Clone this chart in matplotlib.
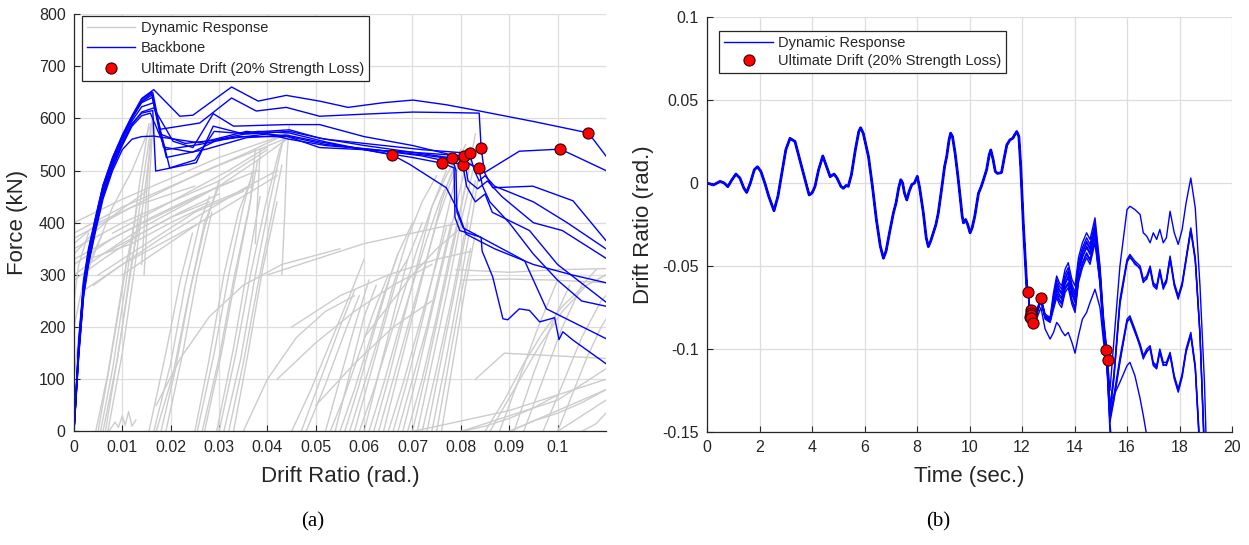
import matplotlib
matplotlib.use("Agg")
import matplotlib.pyplot as plt

plt.rcParams['font.family'] = ['Liberation Sans', 'DejaVu Sans']

# ---------------- (a) force vs drift ----------------
rise_drift = [0, .001, .002, .003, .0045, .006, .008, .010, .012, .014]

bb1_drift = rise_drift + [.0165, .0219, .0246, .0326, .0381, .0439, .0508, .0567, .0640, .0701, .0770, .0839, .0950, .1064, .110]
bb1_force = [0, 170, 285, 345, 410, 470, 525, 568, 605, 638, 655, 604, 606, 660, 633, 644, 633, 621, 630, 635, 626, 614, 594, 572, 528]

bb2_drift = rise_drift + [.0163, .0178, .0260, .0326, .0377, .0439, .0508, .0600, .0700, .0780, .0838, .0842, .0849, .0866, .0949, .1032, .110]
bb2_force = [0, 160, 275, 335, 400, 462, 518, 562, 600, 632, 650, 579, 591, 639, 614, 621, 604, 608, 612, 611, 610, 543, 496, 467, 470, 442, 366]

bb3_drift = rise_drift + [.0165, .0205, .0246, .0288, .0330, .0439, .0508, .0600, .0700, .0780, .0835, .0849, .0921, .1006, .110]
bb3_force = [0, 150, 265, 325, 392, 452, 508, 552, 588, 612, 620, 556, 544, 609, 585, 588, 588, 565, 548, 530, 505, 496, 537, 541, 500]

bb4_drift = rise_drift + [.0162, .0191, .0274, .0357, .0439, .0508, .0600, .0658, .0694, .0770, .0791, .0811, .0870, .0950, .1030, .110]
bb4_force = [0, 165, 280, 340, 405, 465, 520, 563, 600, 630, 640, 525, 541, 563, 568, 555, 540, 530, 512, 467, 429, 378, 350, 320, 300, 285]

bb5_drift = rise_drift + [.0162, .0185, .0245, .0300, .0380, .0445, .0520, .0600, .0700, .0762, .0786, .0788, .0798, .0842, .0844, .0866, .0887, .0897, .0921, .0942, .0963, .0994, .1003, .1011, .1032, .110]
bb5_force = [0, 175, 290, 350, 412, 472, 525, 566, 603, 632, 645, 545, 535, 560, 575, 572, 555, 540, 525, 514, 505, 410, 385, 372, 346, 296, 216, 214, 235, 232, 210, 218, 176, 191, 175, 130]

bb6_drift = rise_drift + [.0163, .0169, .0253, .0288, .0343, .0446, .0508, .0600, .0700, .0782, .0790, .0792, .0805, .0932, .0977, .110]
bb6_force = [0, 155, 270, 330, 396, 456, 510, 553, 590, 610, 615, 499, 515, 585, 572, 578, 562, 548, 535, 524, 500, 420, 390, 327, 235, 178]

bb7_drift = rise_drift + [.0160, .0178, .0230, .0310, .0400, .0445, .0520, .0620, .0720, .0804, .0812, .0830, .0850, .0865, .0942, .1000, .110]
bb7_force = [0, 168, 282, 342, 408, 468, 522, 565, 602, 636, 650, 570, 552, 560, 570, 560, 548, 540, 528, 511, 470, 440, 455, 420, 385, 320, 248]

bb8_drift = rise_drift + [.0165, .0260, .0357, .0439, .0508, .0600, .0700, .0806, .0815, .0835, .0855, .0885, .0950, .1010, .110]
bb8_force = [0, 145, 260, 320, 385, 445, 500, 540, 560, 565, 566, 553, 575, 566, 544, 540, 535, 528, 480, 465, 480, 450, 400, 385, 332]

bb9_drift = rise_drift + [.0165, .0198, .0250, .0290, .0360, .0445, .0520, .0620, .0720, .0818, .0828, .0838, .0850, .0870, .0950, .1020, .110]
bb9_force = [0, 158, 272, 332, 398, 460, 515, 558, 595, 622, 630, 505, 520, 575, 570, 575, 560, 550, 540, 533, 500, 480, 490, 470, 440, 400, 350]

bb10_drift = rise_drift + [.0158, .0190, .0260, .0340, .0445, .0520, .0620, .0720, .0800, .0837, .0845, .0860, .0900, .0950, .1000, .1050, .110]
bb10_force = [0, 150, 262, 322, 390, 450, 505, 548, 585, 605, 610, 540, 550, 565, 565, 550, 540, 530, 520, 504, 470, 440, 400, 340, 290, 250, 240]

ult_drift = [0.0658, 0.0762, 0.0782, 0.0804, 0.0806, 0.0818, 0.0837, 0.0842, 0.1006, 0.1064]
ult_force = [530, 514, 524, 511, 528, 533, 504, 543, 541, 572]

# gray hysteresis branches, grouped by stage of the record
resp_elastic = [
    ([0, .001, .002, .003], [0, 150, 260, 320]),
    ([0, .0015, .003, .005], [100, 230, 310, 360]),
    ([0, .002, .004, .006], [200, 290, 340, 380]),
    ([0, .001, .003], [250, 320, 380]),
    ([0, .002, .005, .008, .012, .016, .0165], [0, 300, 360, 430, 500, 590, 600]),
]
resp_reload = [
    ([0, .01, .02, .03, .0435], [380, 430, 470, 510, 560]),
    ([0, .01, .02, .03, .040], [350, 400, 440, 480, 540]),
    ([0, .008, .016, .025, .033], [320, 370, 410, 450, 480]),
    ([0, .006, .012, .02, .028], [300, 340, 370, 410, 440]),
    ([0, .01, .02, .03, .044], [400, 445, 485, 525, 570]),
    ([.003, .012, .02, .029, .037], [330, 360, 400, 440, 470]),
    ([0, .005, .012, .02, .025], [360, 400, 430, 455, 470]),
    ([.005, .015, .025, .035], [300, 360, 420, 460]),
    ([.004, .01, .018, .026], [280, 320, 360, 400]),
    ([0, .008, .016, .026, .036, .045], [370, 410, 450, 495, 535, 575]),
    ([0, .01, .02, .03, .038], [330, 380, 425, 470, 500]),
    ([.002, .01, .018, .027, .035, .042], [270, 320, 370, 420, 465, 500]),
    ([0, .006, .014, .022, .030], [290, 330, 380, 420, 455]),
    ([.006, .014, .022, .030, .038, .044], [340, 390, 430, 470, 520, 560]),
    ([.008, .016, .024, .032, .040], [380, 420, 460, 500, 545]),
    ([.010, .018, .026, .034, .042], [300, 350, 400, 445, 490]),
    ([0, .004, .009, .015], [340, 380, 420, 460]),
    ([.0145, .0150, .0155, .0160, .0163], [300, 380, 460, 540, 600]),
    ([.0140, .0146, .0152, .0158], [320, 400, 480, 560]),
    ([.0430, .0436, .0440, .0445], [300, 420, 520, 585]),
    ([.0375, .0380, .0385], [360, 450, 540]),
]
resp_cycles_1 = [
    ([.0055, .008, .011, .0135, .0155], [0, 120, 300, 470, 590]),
    ([.006, .009, .012, .014, .0162], [0, 140, 320, 460, 600]),
    ([.0045, .007, .010, .0125, .013], [0, 110, 280, 400, 430]),
    ([.0065, .0095, .0120, .0140], [0, 170, 330, 420]),
    ([.0050, .0080, .0110, .0125], [0, 160, 330, 380]),
    ([.0070, .0100, .0125, .0145, .0160], [0, 150, 310, 450, 560]),
    ([.0072, .0085, .0092, .0100, .0106, .0113, .0120, .0128], [0, 18, 8, 30, 12, 38, 10, 22]),
    ([.0165, .020, .023, .026, .028], [0, 130, 280, 400, 450]),
    ([.0180, .021, .024, .027, .030], [0, 120, 270, 400, 470]),
    ([.0155, .019, .022, .0245], [0, 150, 290, 380]),
    ([.0190, .0225, .0255, .0285], [0, 150, 300, 420]),
    ([.0170, .0205, .0235, .0270, .0300], [0, 110, 250, 390, 480]),
    ([.017, .022, .028, .035, .043, .055], [50, 140, 220, 280, 320, 350]),
]
resp_cycles_2 = [
    ([.0255, .029, .032, .035, .037], [0, 150, 300, 430, 500]),
    ([.0265, .030, .033, .036, .038], [0, 140, 290, 420, 520]),
    ([.0250, .028, .031, .034, .0365], [0, 140, 300, 420, 480]),
    ([.0270, .0305, .0335, .0365, .0375], [0, 150, 300, 440, 540]),
    ([.0300, .0335, .0365, .0395, .0425, .0435], [0, 150, 300, 430, 540, 560]),
    ([.0310, .0345, .0375, .0405, .0435], [0, 140, 300, 440, 570]),
    ([.0320, .0350, .0380, .0410, .0430], [0, 130, 280, 420, 510]),
    ([.0330, .0360, .0390, .0420], [0, 150, 310, 440]),
    ([.0295, .0330, .0360, .0385], [0, 160, 320, 450]),
    ([.0350, .040, .046, .052, .058], [0, 100, 180, 230, 260]),
]
resp_cycles_3 = [
    ([.045, .049, .053, .057, .060], [0, 80, 170, 260, 330]),
    ([.048, .052, .056, .059], [0, 90, 190, 260]),
    ([.052, .055, .058, .061], [0, 100, 200, 290]),
    ([.054, .057, .060, .0625], [0, 110, 220, 280]),
    ([.056, .059, .062, .0655, .067], [0, 90, 190, 300, 340]),
    ([.058, .061, .064, .067, .069], [0, 100, 200, 300, 330]),
    ([.060, .063, .066, .069, .072], [0, 110, 220, 330, 400]),
    ([.062, .065, .068, .071, .074, .077], [0, 100, 210, 320, 430, 500]),
    ([.064, .067, .070, .073, .076, .079], [0, 110, 220, 330, 440, 520]),
    ([.066, .069, .072, .075, .078, .080], [0, 100, 210, 330, 450, 530]),
    ([.068, .071, .074, .077, .080, .082], [0, 110, 230, 350, 470, 545]),
    ([.069, .072, .075, .078, .081, .083], [0, 100, 220, 350, 470, 570]),
    ([.070, .073, .076, .079, .082], [0, 120, 250, 380, 520]),
    ([.071, .074, .077, .080, .0825], [0, 130, 260, 400, 500]),
    ([.072, .075, .078, .081, .083], [0, 120, 250, 390, 480]),
    ([.073, .076, .079, .0815], [0, 140, 280, 400]),
    ([.065, .068, .071, .074, .077], [0, 90, 190, 290, 390]),
    ([.067, .070, .073, .0755, .078], [0, 100, 200, 300, 400]),
    ([.055, .058, .061, .064, .067, .070], [0, 80, 170, 260, 340, 400]),
    ([.057, .060, .063, .066, .069, .072, .075], [0, 90, 180, 280, 370, 440, 490]),
    ([.059, .062, .065, .068, .071, .074, .077, .080], [0, 80, 170, 260, 350, 430, 490, 540]),
    ([.061, .064, .067, .070, .073, .076, .079, .081], [0, 90, 190, 280, 370, 450, 510, 550]),
    ([.063, .066, .069, .072, .075, .078, .081], [0, 100, 200, 300, 400, 480, 540]),
    ([.074, .077, .080, .0825, .0835], [0, 140, 290, 420, 480]),
    ([.075, .0775, .080, .082], [0, 130, 260, 350]),
    ([.076, .0785, .081, .083], [0, 140, 280, 380]),
    ([.053, .056, .059, .062, .065], [0, 70, 150, 230, 300]),
    ([.047, .051, .055, .058], [0, 100, 200, 270]),
    ([.060, .065, .070, .075, .080], [180, 240, 300, 350, 390]),
    ([.040, .050, .060, .070, .080], [300, 330, 360, 380, 400]),
    ([.045, .055, .065, .075, .082], [200, 260, 300, 330, 345]),
    ([.042, .050, .058, .066, .074], [100, 170, 230, 280, 320]),
    ([.050, .058, .066, .074], [50, 130, 200, 250]),
]
resp_post = [
    ([.079, .090, .100, .110], [310, 305, 310, 312]),
    ([.080, .090, .100, .110], [290, 292, 290, 285]),
    ([.083, .089, .110], [100, 150, 140]),
    ([.088, .092, .096, .100], [0, 100, 200, 290]),
    ([.091, .095, .099, .1025], [0, 110, 210, 280]),
    ([.093, .097, .101, .105, .108], [0, 100, 200, 280, 310]),
    ([.097, .101, .105, .109, .110], [0, 90, 180, 250, 260]),
    ([.085, .089, .093, .097, .101, .105, .110], [0, 60, 130, 190, 240, 275, 300]),
    ([.086, .091, .096, .101, .106, .110], [0, 80, 160, 230, 280, 300]),
    ([.100, .103, .106, .109, .110], [0, 70, 140, 200, 215]),
    ([.070, .080, .090, .100, .110], [0, 20, 40, 70, 100]),
    ([.080, .090, .100, .110], [0, 30, 60, 120]),
    ([.080, .085, .090, .095, .100], [0, 10, 25, 45, 70]),
    ([.090, .100, .110], [0, 40, 80]),
    ([.090, .095, .100, .105, .110], [0, 20, 35, 55, 80]),
    ([.100, .105, .110], [0, 30, 60]),
    ([.105, .108, .110], [0, 15, 35]),
]

# ---------------- (b) drift history ----------------
t_common = [0, 0.24, 0.5, 0.65, 0.79, 0.95, 1.1, 1.25, 1.4, 1.51, 1.65, 1.8, 1.92, 2.05, 2.2, 2.35,
            2.55, 2.7, 2.85, 3.0, 3.16, 3.35, 3.5, 3.67, 3.8, 3.89, 4.0, 4.11, 4.25, 4.41, 4.55, 4.69,
            4.84, 4.95, 5.1, 5.19, 5.3, 5.38, 5.5, 5.65, 5.78, 5.85, 5.95, 6.05, 6.15, 6.3, 6.45, 6.6,
            6.72, 6.82, 6.95, 7.1, 7.2, 7.3, 7.38, 7.45, 7.52, 7.61, 7.7, 7.8, 7.9, 8.01, 8.1, 8.24,
            8.35, 8.43, 8.52, 8.62, 8.72, 8.81, 8.95, 9.05, 9.13, 9.22, 9.28, 9.35, 9.45, 9.55, 9.64,
            9.72, 9.77, 9.85, 9.93, 10.02, 10.1, 10.2, 10.34, 10.45, 10.53, 10.65, 10.75, 10.81, 10.9,
            10.98, 11.06, 11.15, 11.22, 11.32, 11.42, 11.54, 11.65, 11.72, 11.8, 11.88, 11.95, 12.05, 12.18]
d_common = [0, -0.0012, 0.001, 0.0, -0.0022, 0.002, 0.0054, 0.003, -0.003, -0.0057, 0.0, 0.008, 0.0098,
            0.007, 0.0, -0.008, -0.0167, -0.008, 0.006, 0.020, 0.0269, 0.025, 0.016, 0.0058, -0.002,
            -0.0072, -0.006, -0.0022, 0.008, 0.0163, 0.010, 0.0038, 0.0054, 0.003, -0.002, -0.0032,
            -0.0015, -0.002, 0.005, 0.020, 0.031, 0.0333, 0.030, 0.023, 0.0159, -0.002, -0.022, -0.038,
            -0.0453, -0.041, -0.030, -0.018, -0.012, -0.003, 0.002, 0.0, -0.006, -0.0102, -0.005, -0.001,
            0.0, 0.004, -0.003, -0.018, -0.033, -0.0383, -0.035, -0.030, -0.025, -0.018, -0.002, 0.010,
            0.016, 0.026, 0.030, 0.028, 0.018, 0.005, -0.008, -0.020, -0.024, -0.022, -0.025, -0.030,
            -0.027, -0.020, -0.0062, -0.002, 0.0019, 0.008, 0.017, 0.0199, 0.014, 0.007, 0.0058, 0.006,
            0.0064, 0.015, 0.0229, 0.026, 0.027, 0.029, 0.031, 0.028, 0.010, -0.025, -0.0624]

t_tail = [12.24, 12.30, 12.36, 12.42, 12.55, 12.72, 12.88, 13.07, 13.20, 13.32, 13.42, 13.51, 13.64,
          13.76, 13.90, 14.02, 14.15, 14.30, 14.46, 14.59, 14.78, 14.97, 15.10, 15.23, 15.35, 15.50,
          15.73, 16.00, 16.11, 16.30, 16.50, 16.62, 16.75, 16.88, 17.00, 17.13, 17.25, 17.38, 17.50,
          17.64, 17.80, 17.95, 18.10, 18.25, 18.43, 18.60, 18.78, 18.95, 19.10]

tail_1 = [-0.066, -0.076, -0.079, -0.082, -0.077, -0.069, -0.079, -0.081,
          -0.066, -0.056, -0.060, -0.062, -0.052, -0.048, -0.058, -0.062, -0.045, -0.036, -0.030, -0.034,
          -0.021, -0.050, -0.080, -0.101,
          -0.125, -0.095, -0.050, -0.016, -0.014, -0.016, -0.019, -0.030, -0.032, -0.036, -0.030, -0.034,
          -0.028, -0.036, -0.033, -0.017, -0.030, -0.037, -0.028, -0.012, 0.003, -0.015, -0.062, -0.120, -0.200]
tail_2 = [-0.067, -0.078, -0.080, -0.083, -0.078, -0.070, -0.080, -0.082,
          -0.068, -0.058, -0.062, -0.064, -0.055, -0.051, -0.061, -0.066, -0.048, -0.039, -0.033, -0.037,
          -0.024, -0.052, -0.082, -0.102,
          -0.135, -0.115, -0.070, -0.046, -0.043, -0.047, -0.050, -0.058, -0.056, -0.050, -0.060, -0.062,
          -0.052, -0.062, -0.058, -0.044, -0.060, -0.068, -0.060, -0.045, -0.027, -0.045, -0.090, -0.160, -0.200]
tail_3 = [-0.066, -0.078, -0.081, -0.084, -0.079, -0.070, -0.081, -0.083,
          -0.070, -0.061, -0.065, -0.067, -0.058, -0.054, -0.064, -0.069, -0.051, -0.042, -0.036, -0.040,
          -0.027, -0.055, -0.084, -0.104,
          -0.137, -0.117, -0.072, -0.047, -0.045, -0.048, -0.052, -0.060, -0.057, -0.052, -0.062, -0.064,
          -0.054, -0.063, -0.060, -0.046, -0.062, -0.070, -0.061, -0.046, -0.029, -0.047, -0.092, -0.165, -0.200]
tail_4 = [-0.067, -0.079, -0.081, -0.085, -0.079, -0.071, -0.081, -0.083,
          -0.072, -0.064, -0.068, -0.070, -0.061, -0.057, -0.067, -0.072, -0.054, -0.045, -0.039, -0.043,
          -0.030, -0.057, -0.086, -0.106,
          -0.139, -0.118, -0.073, -0.048, -0.044, -0.049, -0.051, -0.059, -0.058, -0.051, -0.061, -0.063,
          -0.053, -0.064, -0.059, -0.045, -0.061, -0.069, -0.062, -0.047, -0.028, -0.046, -0.091, -0.162, -0.200]
tail_5 = [-0.066, -0.077, -0.080, -0.083, -0.078, -0.069, -0.080, -0.082,
          -0.070, -0.060, -0.064, -0.066, -0.057, -0.053, -0.063, -0.068, -0.050, -0.041, -0.035, -0.039,
          -0.026, -0.054, -0.083, -0.103,
          -0.140, -0.128, -0.105, -0.082, -0.080, -0.088, -0.097, -0.104, -0.100, -0.098, -0.108, -0.110,
          -0.100, -0.108, -0.108, -0.102, -0.116, -0.124, -0.115, -0.100, -0.090, -0.110, -0.160, -0.200]
tail_6 = [-0.067, -0.078, -0.081, -0.084, -0.079, -0.070, -0.081, -0.083,
          -0.074, -0.066, -0.070, -0.072, -0.063, -0.060, -0.070, -0.075, -0.057, -0.048, -0.042, -0.046,
          -0.033, -0.059, -0.088, -0.107,
          -0.142, -0.130, -0.107, -0.084, -0.081, -0.089, -0.099, -0.106, -0.101, -0.100, -0.110, -0.112,
          -0.102, -0.110, -0.109, -0.104, -0.118, -0.126, -0.117, -0.102, -0.092, -0.112, -0.165, -0.200]
tail_7 = [-0.068, -0.079, -0.082, -0.085, -0.080, -0.071, -0.082, -0.084,
          -0.076, -0.069, -0.073, -0.075, -0.066, -0.063, -0.073, -0.078, -0.060, -0.051, -0.045, -0.049,
          -0.036, -0.061, -0.090, -0.109,
          -0.144, -0.131, -0.108, -0.083, -0.082, -0.090, -0.098, -0.105, -0.102, -0.099, -0.109, -0.111,
          -0.101, -0.109, -0.110, -0.103, -0.117, -0.125, -0.116, -0.101, -0.091, -0.111, -0.162, -0.200]
tail_8 = [-0.066, -0.078, -0.080, -0.084, -0.078, -0.070, -0.080, -0.083,
          -0.072, -0.063, -0.067, -0.069, -0.060, -0.056, -0.066, -0.071, -0.053, -0.044, -0.038, -0.042,
          -0.029, -0.056, -0.085, -0.105,
          -0.145, -0.170]
tail_9 = [-0.067, -0.077, -0.081, -0.084, -0.079, -0.070, -0.081, -0.083,
          -0.074, -0.067, -0.071, -0.073, -0.064, -0.061, -0.071, -0.076, -0.058, -0.049, -0.043, -0.047,
          -0.034, -0.060, -0.089, -0.108,
          -0.150, -0.175]
tail_10 = [-0.066, -0.079, -0.082, -0.086, -0.082, -0.075, -0.088, -0.094,
           -0.090, -0.084, -0.086, -0.089, -0.092, -0.090, -0.096, -0.1025, -0.092, -0.082, -0.078, -0.072,
           -0.064, -0.075, -0.095, -0.110,
           -0.132, -0.128, -0.120, -0.110, -0.108, -0.116, -0.130, -0.140, -0.152, -0.175]

ult_time = [12.24, 12.33, 12.36, 12.30, 12.34, 12.36, 12.42, 12.72, 15.20, 15.28]
ult_drift_t = [-0.0658, -0.0764, -0.0784, -0.0808, -0.0795, -0.0814, -0.0844, -0.0694, -0.1007, -0.1069]

TXT = '#262626'
GRAY = '#cccccc'
BLUE = '#0000ff'


def style_axes(ax):
    for side in ['top', 'right']:
        ax.spines[side].set_visible(False)
    for side in ['left', 'bottom']:
        ax.spines[side].set_color(TXT)
        ax.spines[side].set_linewidth(0.9)
    ax.tick_params(direction='in', length=4, width=0.8, colors=TXT, labelsize=11.5, pad=6)
    ax.grid(True, color='#dddddd', linewidth=0.9)
    ax.set_axisbelow(True)


def add_legend(ax, x, y, spacing):
    leg = ax.legend(loc='upper left', bbox_to_anchor=(x, y), fontsize=10.5, frameon=True,
                    fancybox=False, framealpha=1, edgecolor=TXT, borderaxespad=0,
                    handlelength=3.3, handletextpad=0.35, labelspacing=spacing, borderpad=0.35)
    leg.get_frame().set_linewidth(0.9)
    for t in leg.get_texts():
        t.set_color(TXT)


fig = plt.figure(figsize=(12.49, 5.45), dpi=100)
ax1 = fig.add_axes([0.0592, 0.2083, 0.4259, 0.7661])
ax2 = fig.add_axes([0.5661, 0.2073, 0.4203, 0.7615])

# (a)
first = True
for group in [resp_elastic, resp_reload, resp_cycles_1, resp_cycles_2, resp_cycles_3, resp_post]:
    for xs, ys in group:
        ax1.plot(xs, ys, color=GRAY, lw=1.0, label='Dynamic Response' if first else None)
        first = False

backbones = [(bb1_drift, bb1_force), (bb2_drift, bb2_force), (bb3_drift, bb3_force),
             (bb4_drift, bb4_force), (bb5_drift, bb5_force), (bb6_drift, bb6_force),
             (bb7_drift, bb7_force), (bb8_drift, bb8_force), (bb9_drift, bb9_force),
             (bb10_drift, bb10_force)]
for i, (xs, ys) in enumerate(backbones):
    ax1.plot(xs, ys, color=BLUE, lw=1.0, label='Backbone' if i == 0 else None)

ax1.plot(ult_drift, ult_force, 'o', color='red', mec='#330000', mew=0.8, ms=8,
         label='Ultimate Drift (20% Strength Loss)')

ax1.set_xlim(0, 0.11)
ax1.set_ylim(0, 800)
ax1.set_xticks([0, .01, .02, .03, .04, .05, .06, .07, .08, .09, .1])
ax1.set_xticklabels(['0', '0.01', '0.02', '0.03', '0.04', '0.05', '0.06', '0.07', '0.08', '0.09', '0.1'])
ax1.set_yticks(range(0, 801, 100))
style_axes(ax1)
ax1.set_xlabel('Drift Ratio (rad.)', fontsize=16, color=TXT, labelpad=8)
ax1.set_ylabel('Force (kN)', fontsize=16, color=TXT, labelpad=8)
add_legend(ax1, 0.0156, 0.996, 0.45)

# (b)
tails = [tail_1, tail_2, tail_3, tail_4, tail_5, tail_6, tail_7, tail_8, tail_9, tail_10]
for i, tail in enumerate(tails):
    ts = t_common + t_tail[:len(tail)]
    ds = d_common + tail
    ax2.plot(ts, ds, color=BLUE, lw=1.0, label='Dynamic Response' if i == 0 else None)
# the records coincide before failure, drawn as one heavier trace
ax2.plot(t_common + t_tail[:1], d_common + tail_1[:1], color=BLUE, lw=2.0)

ax2.plot(ult_time, ult_drift_t, 'o', color='red', mec='#330000', mew=0.8, ms=8,
         label='Ultimate Drift (20% Strength Loss)')

ax2.set_xlim(0, 20)
ax2.set_ylim(-0.15, 0.1)
ax2.set_xticks(range(0, 21, 2))
ax2.set_yticks([-0.15, -0.1, -0.05, 0, 0.05, 0.1])
ax2.set_yticklabels(['-0.15', '-0.1', '-0.05', '0', '0.05', '0.1'])
style_axes(ax2)
ax2.set_xlabel('Time (sec.)', fontsize=16, color=TXT, labelpad=8)
ax2.set_ylabel('Drift Ratio (rad.)', fontsize=16, color=TXT, labelpad=6)
add_legend(ax2, 0.0234, 0.967, 0.3)

fig.text(313 / 1249, 1 - 522 / 545, '(a)', family='Liberation Serif', fontsize=15, ha='center', va='center')
fig.text(938 / 1249, 1 - 522 / 545, '(b)', family='Liberation Serif', fontsize=15, ha='center', va='center')

fig.savefig('out.png', dpi=100)
